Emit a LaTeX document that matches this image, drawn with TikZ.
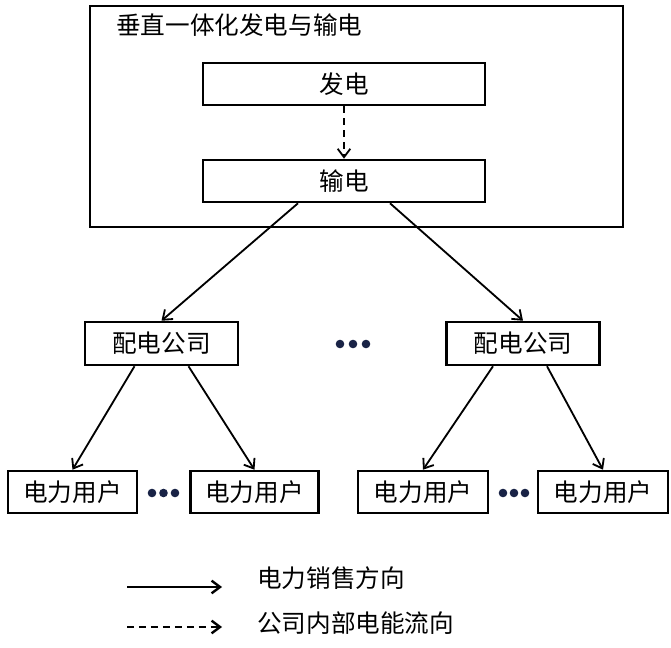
\documentclass[tikz,border=0pt]{standalone}
\usepackage{fontspec}
\setmainfont{Noto Sans CJK SC}
\usetikzlibrary{arrows.meta}
\definecolor{dotblue}{RGB}{25,35,70}
\tikzset{
  box/.style={draw,line width=1.8pt,minimum height=1.05cm,inner sep=0pt},
  sell/.style={-{Straight Barb[length=6pt,width=9pt]},line width=1.3pt},
  inner/.style={sell,dash pattern=on 5pt off 3.5pt},
  lbl/.style={anchor=west,inner sep=0pt}
}
\begin{document}
\begin{tikzpicture}[x=0.025cm,y=-0.025cm,font=\fontsize{17.5}{21}\selectfont]
\useasboundingbox (0,0) rectangle (671,648);
\node[box,minimum width=13.325cm,minimum height=5.525cm] (frame) at (356.5,116.5) {};
\node[lbl] (title) at (116,25) {垂直一体化发电与输电};
\node[box,minimum width=7.05cm] (gen) at (344,84) {发电};
\node[box,minimum width=7.05cm] (trans) at (344,181) {输电};
\draw[inner] (gen) -- (trans);
\node[box,minimum width=3.825cm,minimum height=1.075cm] (distL) at (161.5,343.5) {配电公司};
\node[box,minimum width=3.825cm,minimum height=1.075cm] (distR) at (523,343.5) {配电公司};
\draw[sell] ([xshift=-1.15cm]trans.south) -- (distL.north);
\draw[sell] ([xshift=1.15cm]trans.south) -- (distR.north);
\node[box,minimum width=3.225cm] (userLa) at (72.5,492) {电力用户};
\node[box,minimum width=3.2cm] (userLb) at (254.5,492) {电力用户};
\node[box,minimum width=3.25cm] (userRa) at (423,492) {电力用户};
\node[box,minimum width=3.25cm] (userRb) at (603,492) {电力用户};
\draw[sell] ([xshift=-0.675cm]distL.south) -- (userLa.north);
\draw[sell] ([xshift=0.675cm]distL.south) -- (userLb.north);
\draw[sell] ([xshift=-0.75cm]distR.south) -- (userRa.north);
\draw[sell] ([xshift=0.6cm]distR.south) -- (userRb.north);
\foreach \x/\y in {340/344,353/344,366/344,152/493,163.5/493,175/493,503/493,514/493,525/493}
  \fill[dotblue] (\x,\y) circle (4.3);
\coordinate (solidS) at (127,587);
\coordinate (solidE) at (222,587);
\coordinate (dashS) at (127,627);
\coordinate (dashE) at (222,627);
\draw[sell,line width=1.7pt] (solidS) -- (solidE);
\draw[inner,line width=1.7pt] (dashS) -- (dashE);
\node[lbl] (sellTxt) at (257,578) {电力销售方向};
\node[lbl] (innerTxt) at (257,623) {公司内部电能流向};
\end{tikzpicture}
\end{document}
